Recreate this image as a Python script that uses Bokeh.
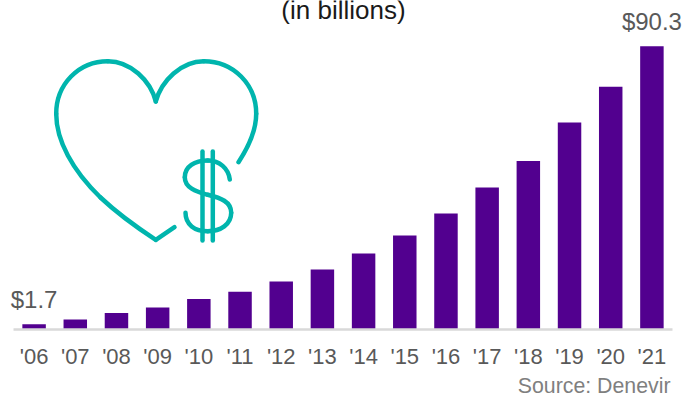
from bokeh.embed import file_html
from bokeh.core.properties import value
from bokeh.models import ColumnDataSource, FixedTicker, Label, LabelSet, Range1d, Title
from bokeh.plotting import figure
from bokeh.resources import INLINE

years = ["'06", "'07", "'08", "'09", "'10", "'11", "'12", "'13",
         "'14", "'15", "'16", "'17", "'18", "'19", "'20", "'21"]
sales = [1.7, 3.2, 5.3, 7.0, 9.7, 12.0, 15.3, 19.1,
         24.2, 30.0, 37.0, 45.3, 53.7, 66.0, 77.4, 90.3]
labelled_years = ["'06", "'21"]
labelled_sales = [1.7, 90.3]

title_text = "(in billions)"
source_text = "Source: Denevir"

BAR = "#52008F"
TEAL = "#00B5AD"
FONT = "Liberation Sans"

slots = list(range(len(years)))
step = 659 / len(years)  # pixels per year slot

p = figure(width=682, height=393,
           x_range=Range1d(-0.5 - 13 / step, len(years) - 0.5 + 10 / step),
           y_range=Range1d(0, 104.9),
           output_backend="svg", toolbar_location=None,
           min_border_left=0, min_border_right=0, min_border_top=0, min_border_bottom=0)
p.outline_line_color = None
p.background_fill_color = "white"
p.xgrid.visible = False
p.ygrid.visible = False
p.yaxis.visible = False

ax = p.xaxis[0]
ax.ticker = FixedTicker(ticks=slots)
ax.bounds = (-0.5, len(years) - 0.5)
ax.major_label_overrides = dict(zip(slots, years))
ax.axis_line_color = "#D9D9D9"
ax.axis_line_width = 2.5
ax.major_tick_line_color = None
ax.minor_tick_line_color = None
ax.major_label_standoff = 8
ax.major_label_text_font = FONT
ax.major_label_text_font_size = "22px"
ax.major_label_text_color = "#595959"

p.vbar(x=slots, top=sales, width=0.57, color=BAR, line_color=None)

labels = ColumnDataSource(dict(x=[years.index(y) for y in labelled_years], y=labelled_sales,
                               t=[f"${v}" for v in labelled_sales]))
p.add_layout(LabelSet(x="x", y="y", text="t", source=labels, y_offset=16, text_align="center",
                      text_baseline="alphabetic", text_font=value(FONT), text_font_size=value("24px"),
                      text_color="#595959"))

# Pixel-like ranges for the heart-and-dollar icon
p.extra_x_ranges["icon"] = Range1d(0, 682)
p.extra_y_ranges["icon"] = Range1d(329, 0)

heart_segments = [
    # x0, y0, x1, y1, cx0, cy0, cx1, cy1
    (155.3, 101, 107.3, 60.7, 150, 80, 130, 60.7),
    (107.3, 60.7, 55.7, 113.3, 78, 60.7, 55.7, 84),
    (55.7, 113.3, 100, 197, 55.7, 140, 72, 170),
    (100, 197, 155.3, 239.3, 118, 214, 138, 228),
    (155.3, 101, 203.3, 60.7, 161, 80, 181, 60.7),
    (203.3, 60.7, 255.7, 113.3, 233, 60.7, 255.7, 84),
    (255.7, 113.3, 238, 161.7, 255.7, 130, 249, 145),
    # the S of the dollar sign
    (229.3, 179, 207.3, 160, 228, 168, 219, 160),
    (207.3, 160, 184.3, 176.7, 194, 160, 184.3, 166),
    (184.3, 176.7, 207.3, 194.3, 184.3, 187, 195, 191),
    (207.3, 194.3, 230.7, 212.3, 220, 197.5, 230.7, 201),
    (230.7, 212.3, 207.3, 230.7, 230.7, 224, 220, 230.7),
    (207.3, 230.7, 185, 212.3, 194, 230.7, 185, 224),
]
seg = list(zip(*heart_segments))
icon = ColumnDataSource(dict(x0=seg[0], y0=seg[1], x1=seg[2], y1=seg[3],
                             cx0=seg[4], cy0=seg[5], cx1=seg[6], cy1=seg[7]))
p.bezier(x0="x0", y0="y0", x1="x1", y1="y1", cx0="cx0", cy0="cy0", cx1="cx1", cy1="cy1",
         source=icon, line_color=TEAL, line_width=4.5, line_cap="round",
         x_range_name="icon", y_range_name="icon")
p.segment(x0=[155.3, 202, 212.3], y0=[239.3, 151, 151], x1=[174, 202, 212.3], y1=[226.7, 240, 240],
          line_color=TEAL, line_width=4.5, line_cap="round",
          x_range_name="icon", y_range_name="icon")

p.add_layout(Label(x=343, y=9, text=title_text, text_align="center", text_baseline="alphabetic",
                   text_font=FONT, text_font_size="26px", text_color="#1A1A1A",
                   x_range_name="icon", y_range_name="icon"))
p.add_layout(Title(text=source_text, align="right", offset=12, standoff=0,
                   text_font=FONT, text_font_size="21.3px", text_font_style="normal",
                   text_color="#7F7F7F"), "below")
p.frame_height = 329
p.frame_width = 682

open("out.html", "w").write(file_html(p, INLINE))
